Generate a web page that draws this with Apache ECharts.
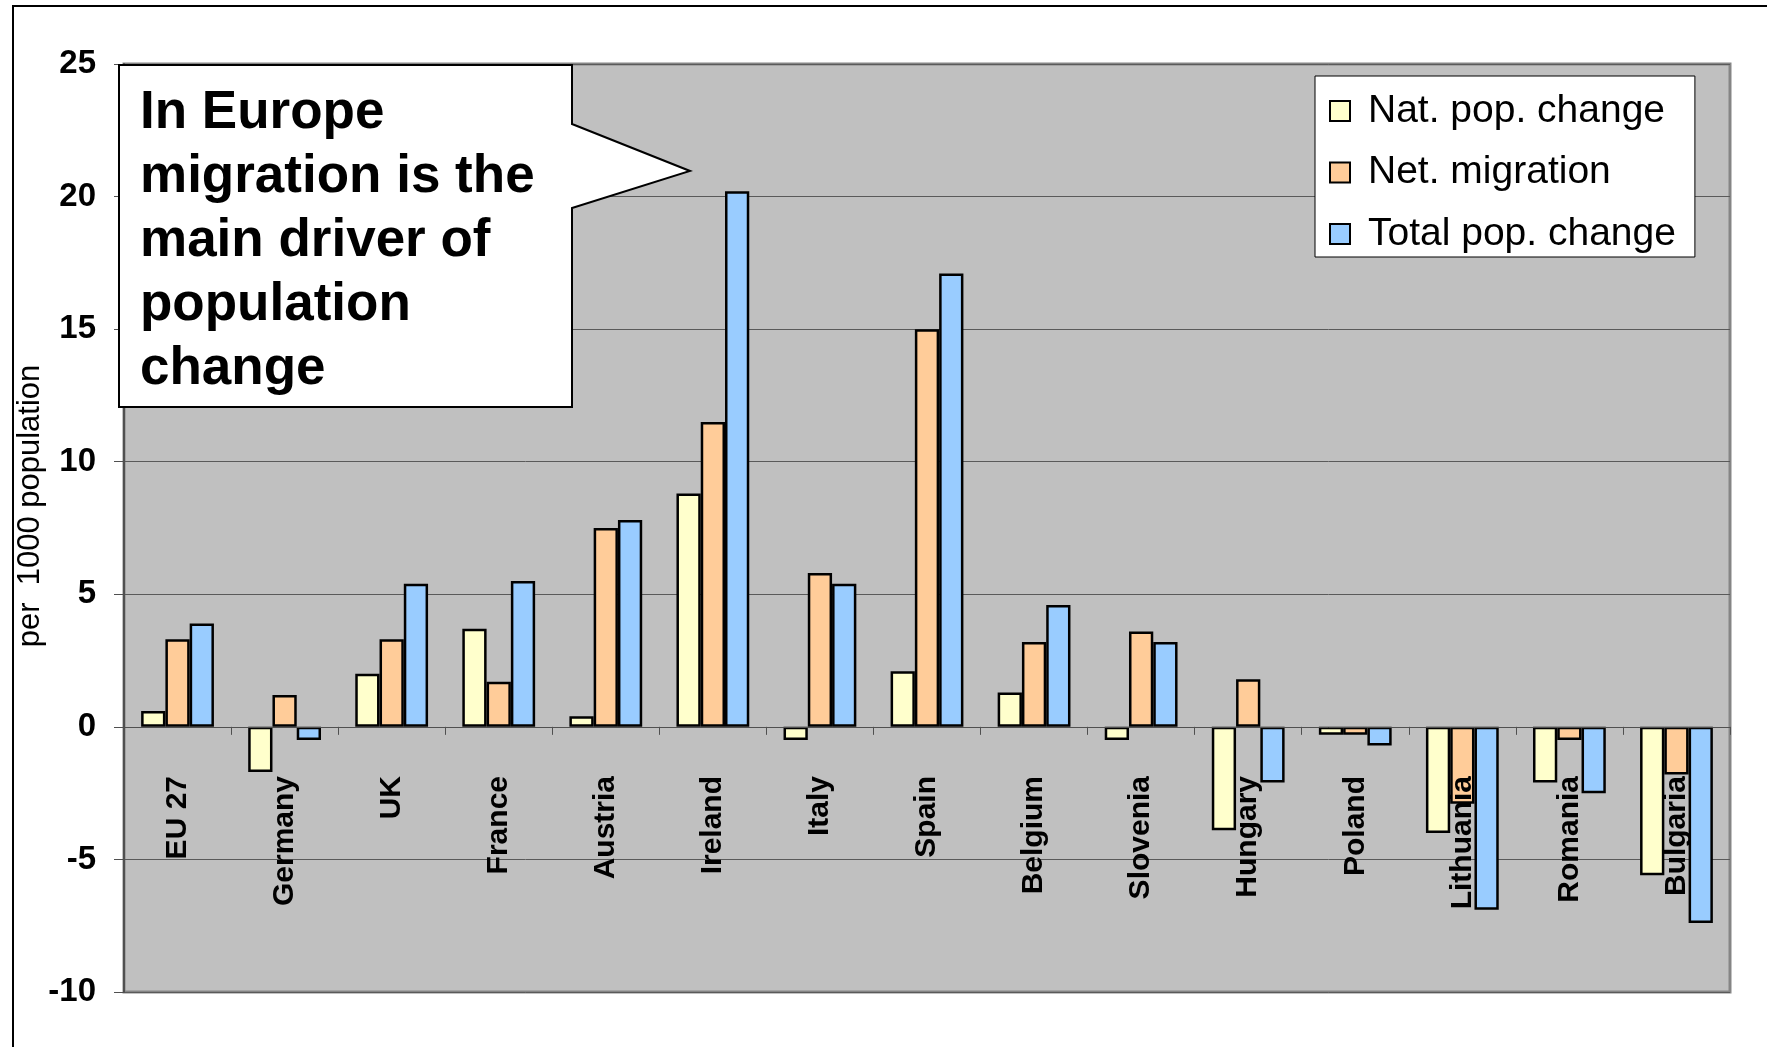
<!DOCTYPE html>
<html>
<head>
<meta charset="utf-8">
<script src="https://cdn.jsdelivr.net/npm/echarts@6/dist/echarts.min.js"></script>
<style>
html,body{margin:0;padding:0;background:#fff;}
#chart{width:1767px;height:1047px;}
</style>
</head>
<body>
<div id="chart"></div>
<script>
const categories = ['EU 27','Germany','UK','France','Austria','Ireland','Italy','Spain','Belgium','Slovenia','Hungary','Poland','Lithuania','Romania','Bulgaria'];
const natPopChange = [0.6, -1.7, 2.0, 3.7, 0.4, 8.8, -0.5, 2.1, 1.3, -0.5, -3.9, -0.3, -4.0, -2.1, -5.6];
const netMigration = [3.3, 1.2, 3.3, 1.7, 7.5, 11.5, 5.8, 15.0, 3.2, 3.6, 1.8, -0.3, -2.9, -0.5, -1.8];
const totalPopChange = [3.9, -0.5, 5.4, 5.5, 7.8, 20.2, 5.4, 17.1, 4.6, 3.2, -2.1, -0.7, -6.9, -2.5, -7.4];
const seriesNames = ['Nat. pop. change','Net. migration','Total pop. change'];
const yAxisTitle = 'per  1000 population';
const calloutText = 'In Europe\nmigration is the\nmain driver of\npopulation\nchange';

const chart = echarts.init(document.getElementById('chart'), null, {renderer:'canvas'});
const font = 'Liberation Sans, Arial, sans-serif';
const barStyle = c => ({color:c, borderColor:'#000', borderWidth:2.5});

chart.setOption({
  animation:false,
  backgroundColor:'#fff',
  textStyle:{fontFamily:font},
  grid:{left:124, right:37, top:64, bottom:55, containLabel:false, outerBoundsMode:'none',
        show:true, backgroundColor:'#C0C0C0', borderColor:'#858585', borderWidth:3},
  legend:{
    orient:'vertical', left:1315, top:76,
    backgroundColor:'#fff', borderColor:'#000', borderWidth:1,
    padding:[15,19,3,14],
    itemWidth:20, itemHeight:20, itemGap:21.5,
    icon:'rect',
    textStyle:{fontSize:39, color:'#000', fontFamily:font, lineHeight:40, padding:[0,0,0,13]},
    data:seriesNames
  },
  xAxis:{
    type:'category', data:categories, z:5,
    axisLine:{onZero:true, lineStyle:{color:'#505050', width:1}},
    axisTick:{show:true, interval:0, length:8, lineStyle:{color:'#505050'}},
    axisLabel:{interval:0, rotate:90, margin:-216, fontSize:30, fontWeight:'bold', color:'#000', fontFamily:font},
    splitLine:{show:false}
  },
  yAxis:{
    type:'value', min:-10, max:25, interval:5,
    name:yAxisTitle, nameLocation:'middle', nameGap:78, nameRotate:90, nameMoveOverlap:false,
    nameTextStyle:{fontSize:31, color:'#000', fontFamily:font, padding:[0,0,0,44]},
    axisLine:{show:true, lineStyle:{color:'#505050', width:2}},
    axisTick:{show:true, length:10, lineStyle:{color:'#505050'}},
    axisLabel:{fontSize:33, fontWeight:'bold', color:'#000', margin:28, fontFamily:font},
    splitLine:{show:true, lineStyle:{color:'#5a5a5a', width:1}}
  },
  series:[
    {name:seriesNames[0], type:'bar', data:natPopChange, barGap:'0%', barCategoryGap:'32%', itemStyle:barStyle('#FFFFCC')},
    {name:seriesNames[1], type:'bar', data:netMigration, barGap:'0%', barCategoryGap:'32%', itemStyle:barStyle('#FFCC99')},
    {name:seriesNames[2], type:'bar', data:totalPopChange, barGap:'0%', barCategoryGap:'32%', itemStyle:barStyle('#99CCFF')}
  ],
  graphic:[
    {type:'rect', z:-10, silent:true, shape:{x:13, y:6, width:1820, height:1120}, style:{fill:'none', stroke:'#000', lineWidth:2}},
    {type:'polygon', z:100, shape:{points:[[119,65],[572,65],[572,124],[690,171],[572,208],[572,407],[119,407]]}, style:{fill:'#fff', stroke:'#000', lineWidth:2}},
    {type:'text', z:101, left:140, top:81, style:{text:calloutText, font:'bold 53px ' + font, fill:'#000', lineHeight:64}}
  ]
});
</script>
</body>
</html>
